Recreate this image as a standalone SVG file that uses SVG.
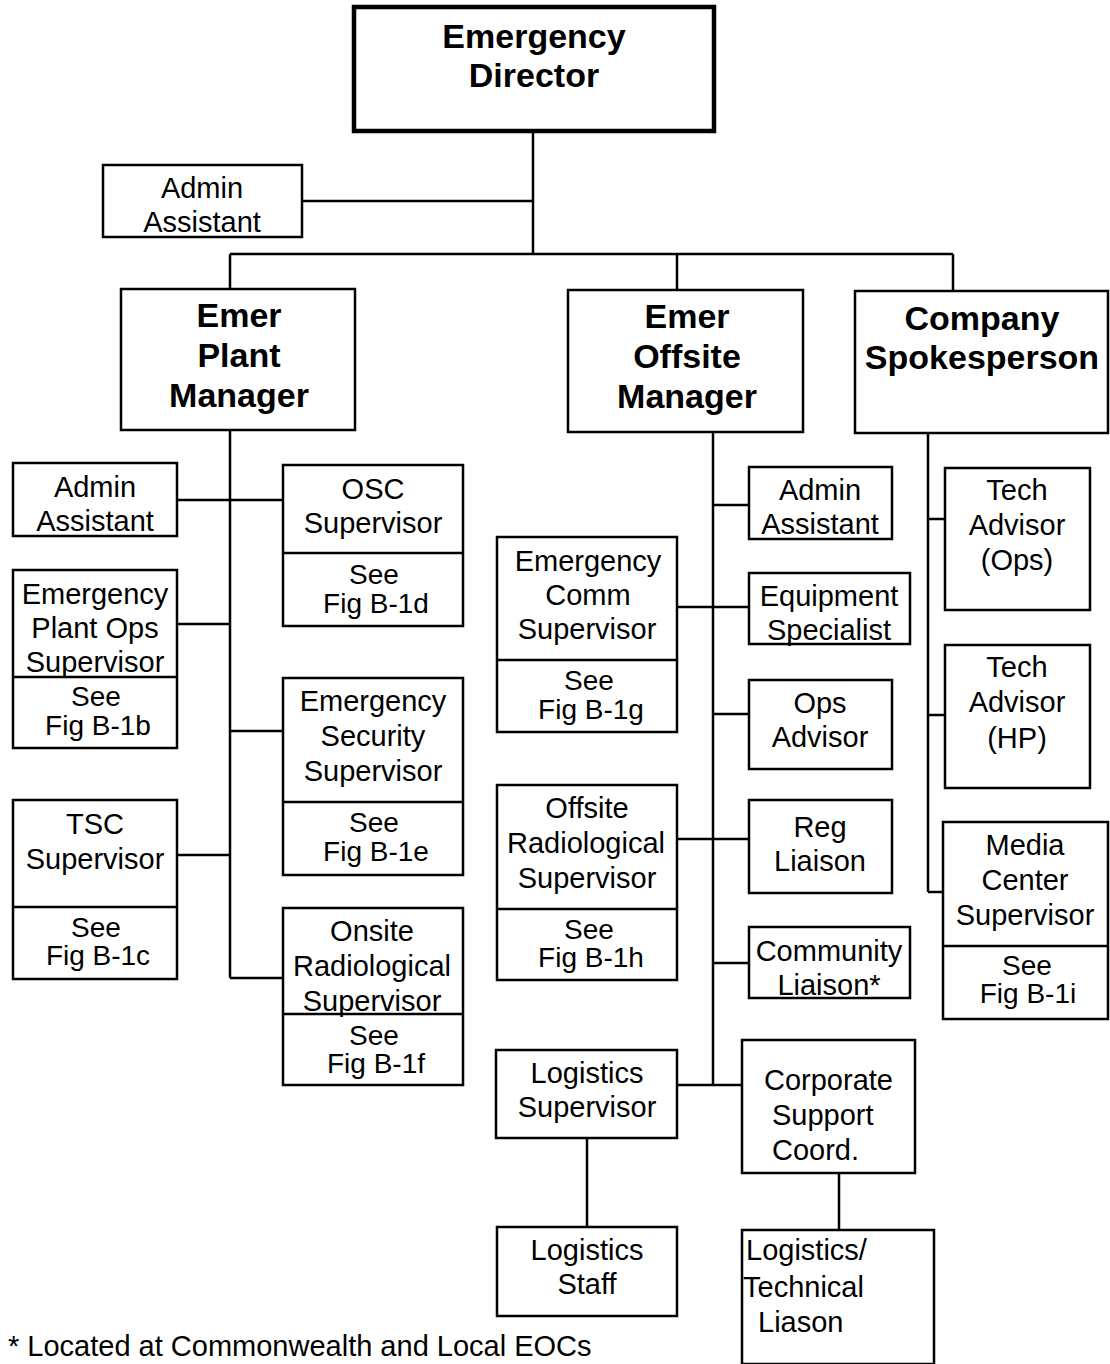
<svg xmlns="http://www.w3.org/2000/svg" width="1110" height="1364" viewBox="0 0 1110 1364">
<style>
.b{fill:#fff;stroke:#000;stroke-width:2.5}
.bt{fill:#fff;stroke:#000;stroke-width:4.5}
.d{stroke:#000;stroke-width:2.5}
.t{font-family:"Liberation Sans",Arial,sans-serif;font-size:29px;fill:#000;text-anchor:middle}
.f{font-size:28px}
.h{font-family:"Liberation Sans",Arial,sans-serif;font-size:34px;font-weight:bold;fill:#000;text-anchor:middle}
.s{text-anchor:start}
#conn path{fill:none;stroke:#000;stroke-width:2.5}
</style>
<rect width="1110" height="1364" fill="#fff"/>
<g id="conn">
<path d="M533 131V254M302 201H533M230 254H953M230 254V289M677 254V290M953 254V291"/>
<path d="M230 430V978M177 500H283M177 624H230M230 731H283M177 855H230M230 978H283"/>
<path d="M713 432V1085M713 505H749M677 607H749M713 714H749M677 839H749M713 963H749M677 1085H742"/>
<path d="M587 1138V1227M839 1173V1230"/>
<path d="M928 433V892M928 519H945M928 715H945M928 892H943"/>
</g>
<g id="emergency-director"><rect class="bt" x="354" y="7" width="360" height="124"/><text class="h" x="534" y="48">Emergency</text><text class="h" x="534" y="87">Director</text></g>
<g id="admin-top"><rect class="b" x="103" y="165" width="199" height="72"/><text class="t" x="202" y="198">Admin</text><text class="t" x="202" y="232">Assistant</text></g>
<g id="plant-manager"><rect class="b" x="121" y="289" width="234" height="141"/><text class="h" x="239" y="327">Emer</text><text class="h" x="239" y="367">Plant</text><text class="h" x="239" y="407">Manager</text></g>
<g id="offsite-manager"><rect class="b" x="568" y="290" width="235" height="142"/><text class="h" x="687" y="328">Emer</text><text class="h" x="687" y="368">Offsite</text><text class="h" x="687" y="408">Manager</text></g>
<g id="spokesperson"><rect class="b" x="855" y="291" width="253" height="142"/><text class="h" x="982" y="330">Company</text><text class="h" x="982" y="369">Spokesperson</text></g>

<g id="admin-left"><rect class="b" x="13" y="463" width="164" height="73"/><text class="t" x="95" y="497">Admin</text><text class="t" x="95" y="531">Assistant</text></g>
<g id="osc"><rect class="b" x="283" y="465" width="180" height="161"/><path class="d" d="M283 553H463"/><text class="t" x="373" y="499">OSC</text><text class="t" x="373" y="533">Supervisor</text><text class="t f" x="374" y="584">See</text><text class="t f" x="376" y="613">Fig B-1d</text></g>
<g id="plant-ops"><rect class="b" x="13" y="570" width="164" height="178"/><path class="d" d="M13 677H177"/><text class="t" x="95" y="604">Emergency</text><text class="t" x="95" y="638">Plant Ops</text><text class="t" x="95" y="672">Supervisor</text><text class="t f" x="96" y="706">See</text><text class="t f" x="98" y="735">Fig B-1b</text></g>
<g id="security"><rect class="b" x="283" y="678" width="180" height="197"/><path class="d" d="M283 802H463"/><text class="t" x="373" y="711">Emergency</text><text class="t" x="373" y="746">Security</text><text class="t" x="373" y="781">Supervisor</text><text class="t f" x="374" y="832">See</text><text class="t f" x="376" y="861">Fig B-1e</text></g>
<g id="tsc"><rect class="b" x="13" y="800" width="164" height="179"/><path class="d" d="M13 907H177"/><text class="t" x="95" y="834">TSC</text><text class="t" x="95" y="869">Supervisor</text><text class="t f" x="96" y="937">See</text><text class="t f" x="98" y="965">Fig B-1c</text></g>
<g id="onsite-rad"><rect class="b" x="283" y="908" width="180" height="177"/><path class="d" d="M283 1014H463"/><text class="t" x="372" y="941">Onsite</text><text class="t" x="372" y="976">Radiological</text><text class="t" x="372" y="1011">Supervisor</text><text class="t f" x="374" y="1045">See</text><text class="t f" x="376" y="1073">Fig B-1f</text></g>

<g id="admin-mid"><rect class="b" x="749" y="467" width="143" height="72"/><text class="t" x="820" y="500">Admin</text><text class="t" x="820" y="534">Assistant</text></g>
<g id="comm"><rect class="b" x="497" y="537" width="180" height="195"/><path class="d" d="M497 660H677"/><text class="t" x="588" y="571">Emergency</text><text class="t" x="588" y="605">Comm</text><text class="t" x="587" y="639">Supervisor</text><text class="t f" x="589" y="690">See</text><text class="t f" x="591" y="719">Fig B-1g</text></g>
<g id="equipment"><rect class="b" x="749" y="573" width="161" height="71"/><text class="t" x="829" y="606">Equipment</text><text class="t" x="829" y="640">Specialist</text></g>
<g id="ops-advisor"><rect class="b" x="749" y="680" width="143" height="89"/><text class="t" x="820" y="713">Ops</text><text class="t" x="820" y="747">Advisor</text></g>
<g id="offsite-rad"><rect class="b" x="497" y="785" width="180" height="195"/><path class="d" d="M497 909H677"/><text class="t" x="587" y="818">Offsite</text><text class="t" x="586" y="853">Radiological</text><text class="t" x="587" y="888">Supervisor</text><text class="t f" x="589" y="939">See</text><text class="t f" x="591" y="967">Fig B-1h</text></g>
<g id="reg"><rect class="b" x="749" y="800" width="143" height="93"/><text class="t" x="820" y="837">Reg</text><text class="t" x="820" y="871">Liaison</text></g>
<g id="community"><rect class="b" x="749" y="927" width="161" height="71"/><text class="t" x="829" y="961">Community</text><text class="t" x="829" y="995">Liaison*</text></g>
<g id="logistics-sup"><rect class="b" x="496" y="1050" width="181" height="88"/><text class="t" x="587" y="1083">Logistics</text><text class="t" x="587" y="1117">Supervisor</text></g>
<g id="corporate"><rect class="b" x="742" y="1040" width="173" height="133"/><text class="t s" x="764" y="1090">Corporate</text><text class="t s" x="772" y="1125">Support</text><text class="t s" x="772" y="1160">Coord.</text></g>
<g id="logistics-staff"><rect class="b" x="497" y="1227" width="180" height="89"/><text class="t" x="587" y="1260">Logistics</text><text class="t" x="587" y="1294">Staff</text></g>
<g id="liason"><rect class="b" x="742" y="1230" width="192" height="134"/><text class="t s" x="746" y="1260">Logistics/</text><text class="t s" x="743" y="1297">Technical</text><text class="t s" x="758" y="1332">Liason</text></g>

<g id="tech-ops"><rect class="b" x="945" y="468" width="145" height="142"/><text class="t" x="1017" y="500">Tech</text><text class="t" x="1017" y="535">Advisor</text><text class="t" x="1017" y="570">(Ops)</text></g>
<g id="tech-hp"><rect class="b" x="945" y="645" width="145" height="143"/><text class="t" x="1017" y="677">Tech</text><text class="t" x="1017" y="712">Advisor</text><text class="t" x="1017" y="748">(HP)</text></g>
<g id="media"><rect class="b" x="943" y="822" width="165" height="197"/><path class="d" d="M943 946H1108"/><text class="t" x="1025" y="855">Media</text><text class="t" x="1025" y="890">Center</text><text class="t" x="1025" y="925">Supervisor</text><text class="t f" x="1027" y="975">See</text><text class="t f" x="1028" y="1003">Fig B-1i</text></g>

<text class="t s" x="8" y="1356">* Located at Commonwealth and Local EOCs</text>
</svg>
